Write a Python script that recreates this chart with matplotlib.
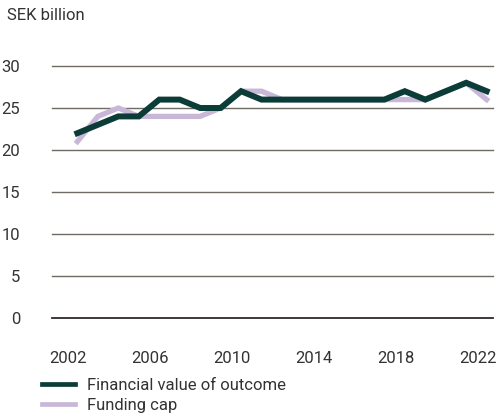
import matplotlib
matplotlib.use("Agg")
import matplotlib.pyplot as plt
import matplotlib.transforms as mtransforms

plt.rcParams["font.family"] = ["Roboto", "DejaVu Sans"]

years = list(range(2002, 2023))
financial_value = [22, 23, 24, 24, 26, 26, 25, 25, 27, 26, 26, 26, 26, 26, 26, 26, 27, 26, 27, 28, 27]
funding_cap = [21, 24, 25, 24, 24, 24, 24, 25, 27, 27, 26, 26, 26, 26, 26, 26, 26, 26, 27, 28, 26]
y_ticks = [0, 5, 10, 15, 20, 25, 30]
x_ticks = [2002, 2006, 2010, 2014, 2018, 2022]

dark = "#0b3c37"
lilac = "#c9b7d7"
text_col = "#333333"

fig = plt.figure(figsize=(4.99, 4.20), dpi=100)
ax = fig.add_axes([52 / 499, 102 / 420, 441 / 499, 252 / 420])

ax.plot(years, funding_cap, color=lilac, lw=3.8, solid_joinstyle="miter",
        label="Funding cap", clip_on=False, zorder=3)
ax.plot(years, financial_value, color=dark, lw=4.3, solid_joinstyle="miter",
        label="Financial value of outcome", clip_on=False, zorder=4)

ax.set_xlim(2000.76, 2022.31)
ax.set_ylim(0, 30)

# gridlines
for v in y_ticks[1:]:
    ax.axhline(v, color="#6f6a64", lw=1.0, zorder=1, clip_on=False)
ax.axhline(0, color="#2f2a26", lw=1.3, zorder=2, clip_on=False)

for s in ax.spines.values():
    s.set_visible(False)

ax.set_yticks(y_ticks)
ax.set_xticks(x_ticks)
ax.tick_params(length=0, labelsize=12, labelcolor=text_col)
ax.tick_params(axis="y", pad=23)
ax.tick_params(axis="x", pad=24)
offset = mtransforms.ScaledTranslation(-9 / 100, 0, fig.dpi_scale_trans)
for lab in ax.get_xticklabels():
    lab.set_transform(lab.get_transform() + offset)

fig.text(7 / 499, 1 - 15 / 420, "SEK billion", fontsize=12, color=text_col,
         ha="left", va="center")

handles, labels = ax.get_legend_handles_labels()
leg = ax.legend(handles[::-1], labels[::-1], loc="upper left",
                bbox_to_anchor=(42 / 499, 1 - 378 / 420), bbox_transform=fig.transFigure,
                frameon=False, fontsize=12, handlelength=2.0, handletextpad=0.7,
                labelspacing=0.3, borderpad=0, borderaxespad=0)
for t in leg.get_texts():
    t.set_color(text_col)
for h in leg.get_lines():
    h.set_linewidth(3.4)

fig.savefig("out.png", dpi=100)
